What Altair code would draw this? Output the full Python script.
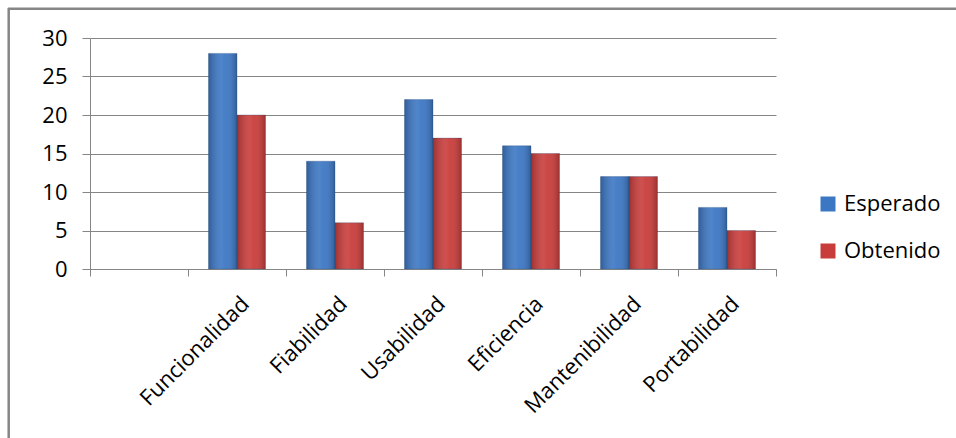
import altair as alt
import pandas as pd

categories = ["", "Funcionalidad", "Fiabilidad", "Usabilidad", "Eficiencia", "Mantenibilidad", "Portabilidad"]
series_names = ["Esperado", "Obtenido"]
esperado = [28, 14, 22, 16, 12, 8]
obtenido = [20, 6, 17, 15, 12, 5]
y_ticks = [0, 5, 10, 15, 20, 25, 30]

rows = []
for cat, e, o in zip(categories[1:], esperado, obtenido):
    rows.append({"categoria": cat, "serie": "Esperado", "valor": e})
    rows.append({"categoria": cat, "serie": "Obtenido", "valor": o})
df = pd.DataFrame(rows)

FONT = "Open Sans"
GRAY = "#868686"
FS = 22

x_enc = alt.X("categoria:N", sort=categories,
              scale=alt.Scale(domain=categories, paddingInner=0, paddingOuter=0),
              axis=alt.Axis(title=None, labelAngle=315, labelAlign="right", labelBaseline="top",
                            tickBand="extent", tickSize=7, tickColor=GRAY, domainColor=GRAY,
                            labelPadding=17, labelOffset=1, labelOverlap=False, labelLimit=0,
                            labelFont=FONT, labelFontSize=FS, labelColor="black", grid=False))
xo_enc = alt.XOffset("serie:N", scale=alt.Scale(domain=series_names, paddingOuter=0.72, paddingInner=0))
y_enc = alt.Y("valor:Q", scale=alt.Scale(domain=[0, 30], nice=False),
              axis=alt.Axis(title=None, values=y_ticks, tickSize=8, tickColor=GRAY, domainColor=GRAY,
                            grid=True, gridColor=GRAY, gridWidth=1, labelPadding=15,
                            labelFont=FONT, labelFontSize=FS, labelColor="black"))

bars = alt.Chart(df).mark_bar(stroke="#2a4a78", strokeWidth=0.6, strokeOpacity=0.5).encode(
    x=x_enc, xOffset=xo_enc, y=y_enc,
    color=alt.Color("serie:N", scale=alt.Scale(domain=series_names, range=["#3C77C4", "#C83D3B"]),
                    legend=alt.Legend(title=None, orient="none", legendX=727, legendY=155,
                                      symbolType="square", symbolSize=225, symbolStrokeWidth=0,
                                      labelFont=FONT, labelFontSize=FS, labelColor="black",
                                      labelOffset=5, rowPadding=25, padding=0))
)

shade = alt.Chart(df).mark_bar(
    fill=alt.Gradient(gradient="linear", x1=0, x2=1, y1=0, y2=0,
                      stops=[alt.GradientStop(color="rgba(0,0,0,0.22)", offset=0),
                             alt.GradientStop(color="rgba(255,255,255,0.10)", offset=0.45),
                             alt.GradientStop(color="rgba(255,255,255,0.05)", offset=0.6),
                             alt.GradientStop(color="rgba(0,0,0,0.22)", offset=1)])
).encode(x=x_enc, xOffset=xo_enc, y=y_enc)

one = pd.DataFrame({"a": [0]})
border_top = alt.Chart(one).mark_rule(color=GRAY, strokeWidth=2.5).encode(
    x=alt.value(-82), x2=alt.value(880), y=alt.value(-29.3))
border_left = alt.Chart(one).mark_rule(color=GRAY, strokeWidth=2.5).encode(
    x=alt.value(-81.3), y=alt.value(-30), y2=alt.value(410))

chart = alt.layer(bars, shade, border_top, border_left).properties(
    width=686, height=231,
    autosize=alt.AutoSizeParams(type="none"),
    padding={"left": 90, "top": 38, "right": 180, "bottom": 169},
    background="white",
).configure_view(stroke=None)

chart.save("out.html", embed_options={"renderer": "svg", "actions": False})
